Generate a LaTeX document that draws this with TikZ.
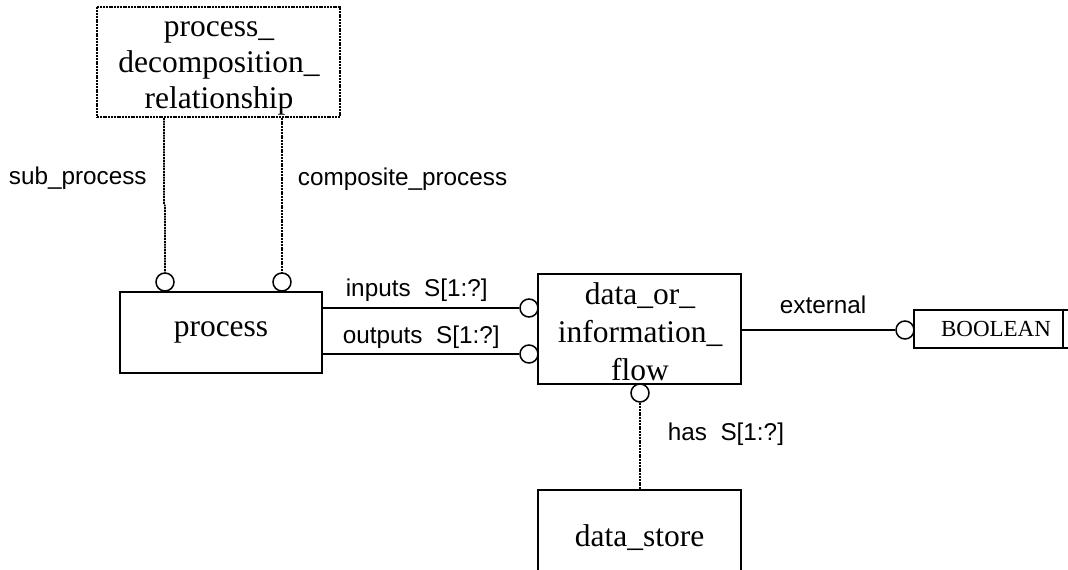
\documentclass[tikz,border=0pt]{standalone}
\usepackage{fontspec}
\setmainfont{Liberation Serif}
\setsansfont{Liberation Sans}
\begin{document}
\begin{tikzpicture}[x=1pt,y=-1pt,
  line width=1.7pt,
  entity/.style={draw, rectangle, inner sep=0pt, align=center,
    font=\fontsize{31.5}{37}\selectfont},
  etext/.style={inner sep=0pt, align=center, font=\fontsize{31.5}{36}\selectfont},
  circ/.style={draw, circle, inner sep=0pt, minimum size=18pt, line width=1.5pt, fill=white},
  dotline/.style={dash pattern=on 2pt off 0.8pt, line width=1.6pt},
  rolelbl/.style={inner sep=0pt, font=\sffamily\fontsize{24.3}{28}\selectfont},
]
\useasboundingbox (0,0) rectangle (1068,570);

% entities
\node[entity, dotline, minimum width=243pt, minimum height=110pt] (pdr) at (218.5,62) {};
\node[etext] (pdrtext) at (219,68.5) {process\_\\decomposition\_\\relationship};
\node[entity, minimum width=202pt, minimum height=81pt] (proc) at (221,332.5) {process};
\node[entity, minimum width=203pt, minimum height=110pt] (flow) at (639.5,329) {};
\node[etext, font=\fontsize{31.5}{38}\selectfont] (flowtext) at (640,331.5)
  {data\_or\_\\information\_\\flow};
\node[entity, minimum width=203pt, minimum height=96pt] (store) at (639.5,538) {data\_store};
\node[entity, font=\fontsize{23}{27}\selectfont, minimum width=164pt, minimum height=38pt]
  (bool) at (996,329) {BOOLEAN};
\draw ([xshift=-16pt]bool.north east) -- ([xshift=-16pt]bool.south east);

% relationship end circles
\node[circ] (csub) at (165,282) {};
\node[circ] (ccomp) at (282,282) {};
\node[circ] (cin) at (529,308) {};
\node[circ] (cout) at (529,354) {};
\node[circ] (chas) at (640,393) {};
\node[circ] (cext) at (905,330) {};

% connectors
\draw[dotline] (pdr.south -| csub) ++(-1,0) -- ++(0,86) -- ++(1,2) -- (csub.north);
\draw[dotline] (pdr.south -| ccomp) -- (ccomp.north);
\draw (proc.east |- cin) -- (cin.west);
\draw (proc.east |- cout) -- (cout.west);
\draw (flow.east |- cext) -- (cext.west);
\draw[dotline] (store.north -| chas) -- (chas.south);

% role labels
\node[rolelbl, anchor=base west] (lsub) at (8,184) {sub\_process};
\node[rolelbl, anchor=base west] (lcomp) at (297,185) {composite\_process};
\node[rolelbl, anchor=base west] (lin) at (345,296) {inputs\ \ S[1:?]};
\node[rolelbl, anchor=base west] (lout) at (342,343) {outputs\ \ S[1:?]};
\node[rolelbl, anchor=base west] (lext) at (779,313) {external};
\node[rolelbl, anchor=base west] (lhas) at (667,440) {has\ \ S[1:?]};
\end{tikzpicture}
\end{document}
